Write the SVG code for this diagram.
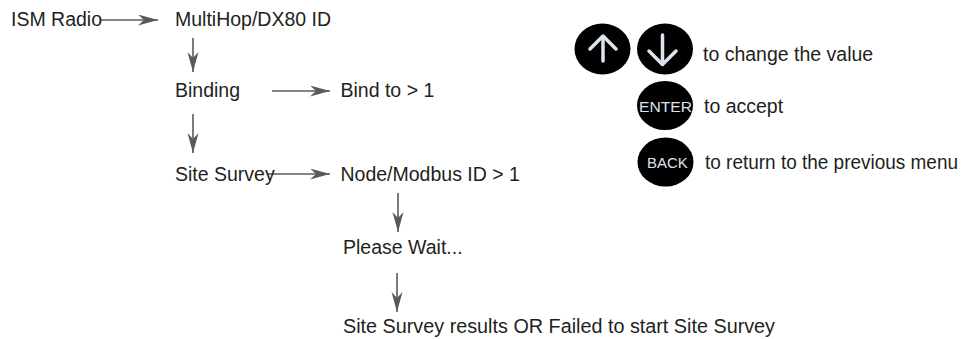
<svg xmlns="http://www.w3.org/2000/svg" width="972" height="339" viewBox="0 0 972 339">
<style>
.t{font-family:"Liberation Sans",Arial,sans-serif;font-size:19.5px;fill:#231f20}
.k{font-family:"Liberation Sans",Arial,sans-serif;font-size:15px;fill:#dde3ef}
.c{stroke:#5a5a5a;stroke-width:1.6;fill:none}
.btn{fill:#000}
.ar{stroke:#dde3ef;stroke-width:3.5;fill:none;stroke-linecap:round;stroke-linejoin:round}
</style>
<defs>
<marker id="ah" markerUnits="userSpaceOnUse" markerWidth="21" markerHeight="12" refX="20" refY="5.5" orient="auto">
<path d="M0,0 L20,5.5 L0,11 L6,5.5 z" fill="#5a5a5a"/>
</marker>
</defs>
<rect width="972" height="339" fill="#fff"/>
<g id="connectors">
<line class="c" x1="101" y1="20" x2="158" y2="20" marker-end="url(#ah)"/>
<line class="c" x1="193" y1="38" x2="193" y2="72" marker-end="url(#ah)"/>
<line class="c" x1="272" y1="91" x2="330" y2="91" marker-end="url(#ah)"/>
<line class="c" x1="193" y1="114" x2="193" y2="153" marker-end="url(#ah)"/>
<line class="c" x1="268" y1="174" x2="330" y2="174" marker-end="url(#ah)"/>
<line class="c" x1="398" y1="193" x2="398" y2="232" marker-end="url(#ah)"/>
<line class="c" x1="397" y1="273" x2="397" y2="312" marker-end="url(#ah)"/>
</g>
<g id="ism"><text class="t" x="11" y="26">ISM Radio</text></g>
<g id="multihop"><text class="t" x="175" y="26">MultiHop/DX80 ID</text></g>
<g id="binding"><text class="t" x="175" y="97">Binding</text></g>
<g id="bindto"><text class="t" x="340.5" y="96.5">Bind to &gt; 1</text></g>
<g id="sitesurvey"><text class="t" x="175" y="181">Site Survey</text></g>
<g id="nodeid"><text class="t" x="340.5" y="181">Node/Modbus ID &gt; 1</text></g>
<g id="pleasewait"><text class="t" x="343" y="254">Please Wait...</text></g>
<g id="results"><text class="t" x="343" y="333" textLength="432" lengthAdjust="spacingAndGlyphs">Site Survey results OR Failed to start Site Survey</text></g>
<g id="legend-updown">
<ellipse class="btn" cx="602.5" cy="49" rx="28" ry="25.5"/>
<line class="ar" x1="603" y1="61" x2="603" y2="37"/>
<polyline class="ar" points="590,49 603,36 616,49"/>
<ellipse class="btn" cx="665" cy="49" rx="28" ry="25.5"/>
<line class="ar" x1="662.5" y1="35" x2="662.5" y2="64"/>
<polyline class="ar" points="649,51 662.5,64.5 676,51"/>
<text class="t" x="703" y="60.5">to change the value</text>
</g>
<g id="legend-enter">
<ellipse class="btn" cx="665" cy="105.5" rx="28" ry="24.5"/>
<text class="k" x="639" y="111.5" textLength="53" lengthAdjust="spacingAndGlyphs">ENTER</text>
<text class="t" x="704" y="113">to accept</text>
</g>
<g id="legend-back">
<ellipse class="btn" cx="665.5" cy="162" rx="28" ry="24.5"/>
<text class="k" x="647" y="168">BACK</text>
<text class="t" x="705" y="169" textLength="253" lengthAdjust="spacingAndGlyphs">to return to the previous menu</text>
</g>
</svg>
